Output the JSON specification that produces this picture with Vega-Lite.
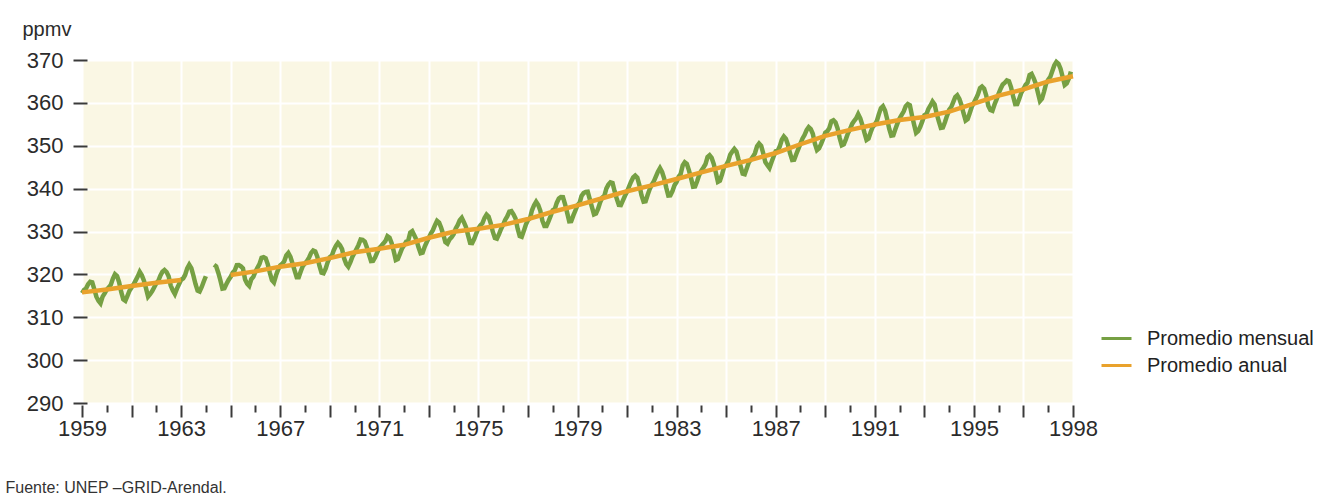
{
  "$schema": "https://vega.github.io/schema/vega-lite/v6.json",
  "width": 991,
  "height": 343,
  "autosize": {"type": "none"},
  "padding": {"left": 82, "top": 60, "right": 268, "bottom": 93},
  "background": "white",
  "config": {
    "view": {"fill": "#FAF7E4", "stroke": null},
    "font": "Liberation Sans"
  },
  "datasets": {
    "mensual": [
      {"d":"1959-01","v":315.62},{"d":"1959-02","v":316.38},{"d":"1959-03","v":316.71},{"d":"1959-04","v":317.72},{"d":"1959-05","v":318.29},{"d":"1959-06","v":318.15},{"d":"1959-07","v":316.54},{"d":"1959-08","v":314.80},{"d":"1959-09","v":313.84},{"d":"1959-10","v":313.26},{"d":"1959-11","v":314.80},{"d":"1959-12","v":315.58},
      {"d":"1960-01","v":316.43},{"d":"1960-02","v":316.97},{"d":"1960-03","v":317.58},{"d":"1960-04","v":319.02},{"d":"1960-05","v":320.03},{"d":"1960-06","v":319.59},{"d":"1960-07","v":318.18},{"d":"1960-08","v":315.91},{"d":"1960-09","v":314.16},{"d":"1960-10","v":313.83},{"d":"1960-11","v":315.00},{"d":"1960-12","v":316.19},
      {"d":"1961-01","v":316.93},{"d":"1961-02","v":317.70},{"d":"1961-03","v":318.54},{"d":"1961-04","v":319.48},{"d":"1961-05","v":320.58},{"d":"1961-06","v":319.77},{"d":"1961-07","v":318.57},{"d":"1961-08","v":316.79},{"d":"1961-09","v":314.80},{"d":"1961-10","v":315.38},{"d":"1961-11","v":316.10},{"d":"1961-12","v":317.01},
      {"d":"1962-01","v":317.94},{"d":"1962-02","v":318.56},{"d":"1962-03","v":319.68},{"d":"1962-04","v":320.63},{"d":"1962-05","v":321.01},{"d":"1962-06","v":320.55},{"d":"1962-07","v":319.58},{"d":"1962-08","v":317.40},{"d":"1962-09","v":316.26},{"d":"1962-10","v":315.42},{"d":"1962-11","v":316.69},{"d":"1962-12","v":317.69},
      {"d":"1963-01","v":318.74},{"d":"1963-02","v":319.08},{"d":"1963-03","v":319.86},{"d":"1963-04","v":321.39},{"d":"1963-05","v":322.25},{"d":"1963-06","v":321.47},{"d":"1963-07","v":319.74},{"d":"1963-08","v":317.77},{"d":"1963-09","v":316.21},{"d":"1963-10","v":315.99},{"d":"1963-11","v":317.07},{"d":"1963-12","v":318.35},
      {"d":"1964-01","v":319.57},{"d":"1964-02","v":null},{"d":"1964-03","v":null},{"d":"1964-04","v":null},{"d":"1964-05","v":322.26},{"d":"1964-06","v":321.89},{"d":"1964-07","v":320.44},{"d":"1964-08","v":318.70},{"d":"1964-09","v":316.70},{"d":"1964-10","v":316.79},{"d":"1964-11","v":317.79},{"d":"1964-12","v":318.71},
      {"d":"1965-01","v":319.44},{"d":"1965-02","v":320.44},{"d":"1965-03","v":320.89},{"d":"1965-04","v":322.13},{"d":"1965-05","v":322.16},{"d":"1965-06","v":321.87},{"d":"1965-07","v":321.39},{"d":"1965-08","v":318.81},{"d":"1965-09","v":317.81},{"d":"1965-10","v":317.30},{"d":"1965-11","v":318.87},{"d":"1965-12","v":319.42},
      {"d":"1966-01","v":320.62},{"d":"1966-02","v":321.59},{"d":"1966-03","v":322.39},{"d":"1966-04","v":323.87},{"d":"1966-05","v":324.01},{"d":"1966-06","v":323.75},{"d":"1966-07","v":322.39},{"d":"1966-08","v":320.37},{"d":"1966-09","v":318.64},{"d":"1966-10","v":318.10},{"d":"1966-11","v":319.79},{"d":"1966-12","v":321.08},
      {"d":"1967-01","v":322.07},{"d":"1967-02","v":322.50},{"d":"1967-03","v":323.04},{"d":"1967-04","v":324.42},{"d":"1967-05","v":325.00},{"d":"1967-06","v":324.09},{"d":"1967-07","v":322.55},{"d":"1967-08","v":320.92},{"d":"1967-09","v":319.31},{"d":"1967-10","v":319.31},{"d":"1967-11","v":320.72},{"d":"1967-12","v":321.96},
      {"d":"1968-01","v":322.57},{"d":"1968-02","v":323.15},{"d":"1968-03","v":323.89},{"d":"1968-04","v":325.02},{"d":"1968-05","v":325.57},{"d":"1968-06","v":325.36},{"d":"1968-07","v":324.14},{"d":"1968-08","v":322.03},{"d":"1968-09","v":320.41},{"d":"1968-10","v":320.25},{"d":"1968-11","v":321.31},{"d":"1968-12","v":322.84},
      {"d":"1969-01","v":324.00},{"d":"1969-02","v":324.42},{"d":"1969-03","v":325.64},{"d":"1969-04","v":326.66},{"d":"1969-05","v":327.34},{"d":"1969-06","v":326.76},{"d":"1969-07","v":325.88},{"d":"1969-08","v":323.67},{"d":"1969-09","v":322.38},{"d":"1969-10","v":321.78},{"d":"1969-11","v":322.85},{"d":"1969-12","v":324.11},
      {"d":"1970-01","v":325.03},{"d":"1970-02","v":325.99},{"d":"1970-03","v":326.87},{"d":"1970-04","v":328.13},{"d":"1970-05","v":328.07},{"d":"1970-06","v":327.66},{"d":"1970-07","v":326.35},{"d":"1970-08","v":324.69},{"d":"1970-09","v":323.10},{"d":"1970-10","v":323.16},{"d":"1970-11","v":323.98},{"d":"1970-12","v":325.13},
      {"d":"1971-01","v":326.17},{"d":"1971-02","v":326.68},{"d":"1971-03","v":327.18},{"d":"1971-04","v":327.78},{"d":"1971-05","v":328.92},{"d":"1971-06","v":328.57},{"d":"1971-07","v":327.34},{"d":"1971-08","v":325.46},{"d":"1971-09","v":323.36},{"d":"1971-10","v":323.57},{"d":"1971-11","v":324.80},{"d":"1971-12","v":326.01},
      {"d":"1972-01","v":326.77},{"d":"1972-02","v":327.63},{"d":"1972-03","v":327.75},{"d":"1972-04","v":329.72},{"d":"1972-05","v":330.07},{"d":"1972-06","v":329.09},{"d":"1972-07","v":328.05},{"d":"1972-08","v":326.32},{"d":"1972-09","v":324.93},{"d":"1972-10","v":325.06},{"d":"1972-11","v":326.50},{"d":"1972-12","v":327.55},
      {"d":"1973-01","v":328.54},{"d":"1973-02","v":329.56},{"d":"1973-03","v":330.30},{"d":"1973-04","v":331.50},{"d":"1973-05","v":332.48},{"d":"1973-06","v":332.07},{"d":"1973-07","v":330.87},{"d":"1973-08","v":329.31},{"d":"1973-09","v":327.51},{"d":"1973-10","v":327.18},{"d":"1973-11","v":328.16},{"d":"1973-12","v":328.64},
      {"d":"1974-01","v":329.35},{"d":"1974-02","v":330.71},{"d":"1974-03","v":331.48},{"d":"1974-04","v":332.65},{"d":"1974-05","v":333.19},{"d":"1974-06","v":332.20},{"d":"1974-07","v":331.07},{"d":"1974-08","v":329.15},{"d":"1974-09","v":327.33},{"d":"1974-10","v":327.28},{"d":"1974-11","v":328.31},{"d":"1974-12","v":329.58},
      {"d":"1975-01","v":330.73},{"d":"1975-02","v":331.46},{"d":"1975-03","v":331.90},{"d":"1975-04","v":333.17},{"d":"1975-05","v":333.94},{"d":"1975-06","v":333.45},{"d":"1975-07","v":331.97},{"d":"1975-08","v":329.95},{"d":"1975-09","v":328.50},{"d":"1975-10","v":328.34},{"d":"1975-11","v":329.37},{"d":"1975-12","v":330.58},
      {"d":"1976-01","v":331.59},{"d":"1976-02","v":332.75},{"d":"1976-03","v":333.52},{"d":"1976-04","v":334.64},{"d":"1976-05","v":334.77},{"d":"1976-06","v":334.00},{"d":"1976-07","v":333.06},{"d":"1976-08","v":330.68},{"d":"1976-09","v":328.95},{"d":"1976-10","v":328.75},{"d":"1976-11","v":330.15},{"d":"1976-12","v":331.62},
      {"d":"1977-01","v":332.66},{"d":"1977-02","v":333.13},{"d":"1977-03","v":334.95},{"d":"1977-04","v":336.13},{"d":"1977-05","v":336.93},{"d":"1977-06","v":336.17},{"d":"1977-07","v":334.88},{"d":"1977-08","v":332.56},{"d":"1977-09","v":331.29},{"d":"1977-10","v":331.27},{"d":"1977-11","v":332.41},{"d":"1977-12","v":333.60},
      {"d":"1978-01","v":334.95},{"d":"1978-02","v":335.25},{"d":"1978-03","v":336.66},{"d":"1978-04","v":337.69},{"d":"1978-05","v":338.03},{"d":"1978-06","v":338.01},{"d":"1978-07","v":336.41},{"d":"1978-08","v":334.41},{"d":"1978-09","v":332.37},{"d":"1978-10","v":332.41},{"d":"1978-11","v":333.75},{"d":"1978-12","v":334.90},
      {"d":"1979-01","v":336.14},{"d":"1979-02","v":336.69},{"d":"1979-03","v":338.27},{"d":"1979-04","v":338.96},{"d":"1979-05","v":339.21},{"d":"1979-06","v":339.26},{"d":"1979-07","v":337.54},{"d":"1979-08","v":335.75},{"d":"1979-09","v":333.98},{"d":"1979-10","v":334.19},{"d":"1979-11","v":335.31},{"d":"1979-12","v":336.81},
      {"d":"1980-01","v":337.90},{"d":"1980-02","v":338.34},{"d":"1980-03","v":340.01},{"d":"1980-04","v":340.93},{"d":"1980-05","v":341.48},{"d":"1980-06","v":341.33},{"d":"1980-07","v":339.40},{"d":"1980-08","v":337.70},{"d":"1980-09","v":336.19},{"d":"1980-10","v":336.15},{"d":"1980-11","v":337.27},{"d":"1980-12","v":338.32},
      {"d":"1981-01","v":339.29},{"d":"1981-02","v":340.55},{"d":"1981-03","v":341.63},{"d":"1981-04","v":342.60},{"d":"1981-05","v":343.04},{"d":"1981-06","v":342.54},{"d":"1981-07","v":340.82},{"d":"1981-08","v":338.48},{"d":"1981-09","v":336.95},{"d":"1981-10","v":337.05},{"d":"1981-11","v":338.58},{"d":"1981-12","v":339.91},
      {"d":"1982-01","v":340.93},{"d":"1982-02","v":341.76},{"d":"1982-03","v":342.78},{"d":"1982-04","v":343.96},{"d":"1982-05","v":344.77},{"d":"1982-06","v":343.88},{"d":"1982-07","v":342.42},{"d":"1982-08","v":340.24},{"d":"1982-09","v":338.38},{"d":"1982-10","v":338.41},{"d":"1982-11","v":339.44},{"d":"1982-12","v":340.78},
      {"d":"1983-01","v":341.57},{"d":"1983-02","v":342.79},{"d":"1983-03","v":343.37},{"d":"1983-04","v":345.40},{"d":"1983-05","v":346.14},{"d":"1983-06","v":345.76},{"d":"1983-07","v":344.32},{"d":"1983-08","v":342.51},{"d":"1983-09","v":340.46},{"d":"1983-10","v":340.53},{"d":"1983-11","v":341.79},{"d":"1983-12","v":343.20},
      {"d":"1984-01","v":344.21},{"d":"1984-02","v":344.92},{"d":"1984-03","v":345.68},{"d":"1984-04","v":347.37},{"d":"1984-05","v":347.78},{"d":"1984-06","v":347.16},{"d":"1984-07","v":345.79},{"d":"1984-08","v":343.74},{"d":"1984-09","v":341.59},{"d":"1984-10","v":341.86},{"d":"1984-11","v":343.31},{"d":"1984-12","v":345.00},
      {"d":"1985-01","v":345.48},{"d":"1985-02","v":346.41},{"d":"1985-03","v":347.91},{"d":"1985-04","v":348.66},{"d":"1985-05","v":349.28},{"d":"1985-06","v":348.65},{"d":"1985-07","v":346.90},{"d":"1985-08","v":345.26},{"d":"1985-09","v":343.47},{"d":"1985-10","v":343.35},{"d":"1985-11","v":344.73},{"d":"1985-12","v":346.12},
      {"d":"1986-01","v":346.78},{"d":"1986-02","v":347.48},{"d":"1986-03","v":348.25},{"d":"1986-04","v":349.86},{"d":"1986-05","v":350.52},{"d":"1986-06","v":349.98},{"d":"1986-07","v":348.25},{"d":"1986-08","v":346.17},{"d":"1986-09","v":345.48},{"d":"1986-10","v":344.82},{"d":"1986-11","v":346.22},{"d":"1986-12","v":347.48},
      {"d":"1987-01","v":348.73},{"d":"1987-02","v":348.92},{"d":"1987-03","v":349.81},{"d":"1987-04","v":351.40},{"d":"1987-05","v":352.15},{"d":"1987-06","v":351.58},{"d":"1987-07","v":350.21},{"d":"1987-08","v":348.20},{"d":"1987-09","v":346.66},{"d":"1987-10","v":346.72},{"d":"1987-11","v":348.08},{"d":"1987-12","v":349.28},
      {"d":"1988-01","v":350.51},{"d":"1988-02","v":351.70},{"d":"1988-03","v":352.50},{"d":"1988-04","v":353.67},{"d":"1988-05","v":354.35},{"d":"1988-06","v":353.88},{"d":"1988-07","v":352.80},{"d":"1988-08","v":350.49},{"d":"1988-09","v":348.97},{"d":"1988-10","v":349.37},{"d":"1988-11","v":350.42},{"d":"1988-12","v":351.62},
      {"d":"1989-01","v":353.07},{"d":"1989-02","v":353.43},{"d":"1989-03","v":354.08},{"d":"1989-04","v":355.72},{"d":"1989-05","v":355.95},{"d":"1989-06","v":355.44},{"d":"1989-07","v":354.05},{"d":"1989-08","v":351.84},{"d":"1989-09","v":350.09},{"d":"1989-10","v":350.33},{"d":"1989-11","v":351.55},{"d":"1989-12","v":352.91},
      {"d":"1990-01","v":353.86},{"d":"1990-02","v":355.10},{"d":"1990-03","v":355.75},{"d":"1990-04","v":356.38},{"d":"1990-05","v":357.38},{"d":"1990-06","v":356.39},{"d":"1990-07","v":354.89},{"d":"1990-08","v":353.06},{"d":"1990-09","v":351.38},{"d":"1990-10","v":351.69},{"d":"1990-11","v":353.14},{"d":"1990-12","v":354.41},
      {"d":"1991-01","v":354.93},{"d":"1991-02","v":355.82},{"d":"1991-03","v":357.33},{"d":"1991-04","v":358.77},{"d":"1991-05","v":359.23},{"d":"1991-06","v":358.23},{"d":"1991-07","v":356.30},{"d":"1991-08","v":353.97},{"d":"1991-09","v":352.34},{"d":"1991-10","v":352.43},{"d":"1991-11","v":353.89},{"d":"1991-12","v":355.21},
      {"d":"1992-01","v":356.34},{"d":"1992-02","v":357.21},{"d":"1992-03","v":357.97},{"d":"1992-04","v":359.22},{"d":"1992-05","v":359.71},{"d":"1992-06","v":359.43},{"d":"1992-07","v":357.15},{"d":"1992-08","v":354.99},{"d":"1992-09","v":353.01},{"d":"1992-10","v":353.41},{"d":"1992-11","v":354.42},{"d":"1992-12","v":355.68},
      {"d":"1993-01","v":357.10},{"d":"1993-02","v":357.42},{"d":"1993-03","v":358.59},{"d":"1993-04","v":359.39},{"d":"1993-05","v":360.30},{"d":"1993-06","v":359.64},{"d":"1993-07","v":357.45},{"d":"1993-08","v":355.76},{"d":"1993-09","v":354.14},{"d":"1993-10","v":354.23},{"d":"1993-11","v":355.53},{"d":"1993-12","v":357.03},
      {"d":"1994-01","v":358.36},{"d":"1994-02","v":359.04},{"d":"1994-03","v":360.11},{"d":"1994-04","v":361.36},{"d":"1994-05","v":361.78},{"d":"1994-06","v":360.94},{"d":"1994-07","v":359.51},{"d":"1994-08","v":357.59},{"d":"1994-09","v":355.86},{"d":"1994-10","v":356.21},{"d":"1994-11","v":357.65},{"d":"1994-12","v":359.10},
      {"d":"1995-01","v":360.04},{"d":"1995-02","v":361.00},{"d":"1995-03","v":361.98},{"d":"1995-04","v":363.44},{"d":"1995-05","v":363.83},{"d":"1995-06","v":363.33},{"d":"1995-07","v":361.78},{"d":"1995-08","v":359.33},{"d":"1995-09","v":358.32},{"d":"1995-10","v":358.14},{"d":"1995-11","v":359.61},{"d":"1995-12","v":360.82},
      {"d":"1996-01","v":362.20},{"d":"1996-02","v":363.36},{"d":"1996-03","v":364.28},{"d":"1996-04","v":364.69},{"d":"1996-05","v":365.25},{"d":"1996-06","v":365.06},{"d":"1996-07","v":363.69},{"d":"1996-08","v":361.55},{"d":"1996-09","v":359.69},{"d":"1996-10","v":359.72},{"d":"1996-11","v":361.04},{"d":"1996-12","v":362.39},
      {"d":"1997-01","v":363.24},{"d":"1997-02","v":364.21},{"d":"1997-03","v":364.65},{"d":"1997-04","v":366.49},{"d":"1997-05","v":366.77},{"d":"1997-06","v":365.73},{"d":"1997-07","v":364.46},{"d":"1997-08","v":362.40},{"d":"1997-09","v":360.44},{"d":"1997-10","v":360.98},{"d":"1997-11","v":362.65},{"d":"1997-12","v":364.51},
      {"d":"1998-01","v":365.39},{"d":"1998-02","v":366.10},{"d":"1998-03","v":367.36},{"d":"1998-04","v":368.79},{"d":"1998-05","v":369.56},{"d":"1998-06","v":369.13},{"d":"1998-07","v":367.98},{"d":"1998-08","v":366.10},{"d":"1998-09","v":364.16},{"d":"1998-10","v":364.54},{"d":"1998-11","v":365.67},{"d":"1998-12","v":367.30}
    ],
    "anual": [
      {"d":"1959-01","v":315.8},{"d":"1960-01","v":316.45},{"d":"1961-01","v":317.3},{"d":"1962-01","v":318.05},{"d":"1963-01","v":318.7},
      {"d":"1964-01","v":null},
      {"d":"1965-01","v":319.85},{"d":"1966-01","v":320.7},{"d":"1967-01","v":321.8},{"d":"1968-01","v":322.6},{"d":"1969-01","v":323.8},
      {"d":"1970-01","v":325.15},{"d":"1971-01","v":326.0},{"d":"1972-01","v":326.9},{"d":"1973-01","v":328.55},{"d":"1974-01","v":329.95},
      {"d":"1975-01","v":330.65},{"d":"1976-01","v":331.55},{"d":"1977-01","v":332.9},{"d":"1978-01","v":334.6},{"d":"1979-01","v":336.1},
      {"d":"1980-01","v":337.75},{"d":"1981-01","v":339.4},{"d":"1982-01","v":340.75},{"d":"1983-01","v":342.25},{"d":"1984-01","v":343.8},
      {"d":"1985-01","v":345.3},{"d":"1986-01","v":346.7},{"d":"1987-01","v":348.3},{"d":"1988-01","v":350.35},{"d":"1989-01","v":352.3},
      {"d":"1990-01","v":353.7},{"d":"1991-01","v":354.95},{"d":"1992-01","v":356.0},{"d":"1993-01","v":356.7},{"d":"1994-01","v":357.95},
      {"d":"1995-01","v":359.8},{"d":"1996-01","v":361.7},{"d":"1997-01","v":363.15},{"d":"1998-01","v":365.0},{"d":"1999-01","v":366.2}
    ]
  },
  "layer": [
    {
      "data": {"name": "mensual"},
      "mark": {"type": "line", "strokeWidth": 4.5, "strokeJoin": "miter", "invalid": "break-paths-show-domains"},
      "encoding": {
        "x": {
          "field": "d", "type": "temporal",
          "scale": {"type": "utc", "domain": [{"year": 1959, "month": 1, "date": 1, "utc": true}, {"year": 1999, "month": 1, "date": 1, "utc": true}], "nice": false},
          "axis": {
            "title": "Fuente: UNEP –GRID-Arendal.",
            "titleX": -77, "titleY": 82, "titleAlign": "left", "titleAnchor": "start", "titleBaseline": "middle",
            "titleFont": "Liberation Sans", "titleFontSize": 16, "titleFontWeight": "normal", "titleColor": "#333333",
            "tickCount": {"interval": "year", "step": 1},
            "labelExpr": "utcyear(datum.value) == 1999 ? '1998' : ((utcyear(datum.value) - 1959) % 4 == 0 ? '' + utcyear(datum.value) : '')",
            "labelOverlap": false, "labelFlush": false, "labelBound": false,
            "labelFontSize": 22, "labelColor": "#2b2b2b", "labelPadding": 1,
            "domain": false, "offset": 2,
            "tickColor": "#3a3a3a", "tickWidth": 2,
            "tickSize": {"condition": {"test": "utcyear(datum.value) % 2 == 1", "value": 12}, "value": 7},
            "grid": true, "gridColor": "#ffffff", "gridWidth": 2,
            "gridOpacity": {"condition": {"test": "utcyear(datum.value) % 2 == 1", "value": 1}, "value": 0}
          }
        },
        "y": {
          "field": "v", "type": "quantitative",
          "scale": {"domain": [290, 370], "nice": false, "zero": false},
          "axis": {
            "title": "ppmv", "titleAngle": 0, "titleX": -65, "titleY": -25, "titleAlign": "left", "titleBaseline": "alphabetic",
            "titleFont": "Liberation Sans", "titleFontSize": 20, "titleFontWeight": "normal", "titleColor": "#2b2b2b",
            "values": [290, 300, 310, 320, 330, 340, 350, 360, 370],
            "labelFontSize": 22, "labelColor": "#2b2b2b", "labelPadding": 10, "labelFlush": false,
            "domain": false, "offset": -5,
            "tickSize": 14, "tickWidth": 2, "tickColor": "#3a3a3a",
            "grid": true, "gridColor": "#ffffff", "gridWidth": 2
          }
        },
        "color": {
          "datum": "Promedio mensual", "type": "nominal",
          "scale": {"domain": ["Promedio mensual", "Promedio anual"], "range": ["#76A043", "#E9A22C"]},
          "legend": {
            "orient": "none", "legendX": 1018, "legendY": 262, "title": null,
            "symbolType": "stroke", "symbolSize": 900, "symbolStrokeWidth": 3,
            "labelFont": "Liberation Sans", "labelFontSize": 20, "labelColor": "#222222", "labelOffset": 14,
            "labelLimit": 0, "rowPadding": 0
          }
        }
      }
    },
    {
      "data": {"name": "anual"},
      "mark": {"type": "line", "strokeWidth": 4.5, "strokeJoin": "round", "invalid": "break-paths-show-domains"},
      "encoding": {
        "x": {"field": "d", "type": "temporal"},
        "y": {"field": "v", "type": "quantitative"},
        "color": {"datum": "Promedio anual", "type": "nominal"}
      }
    }
  ]
}
